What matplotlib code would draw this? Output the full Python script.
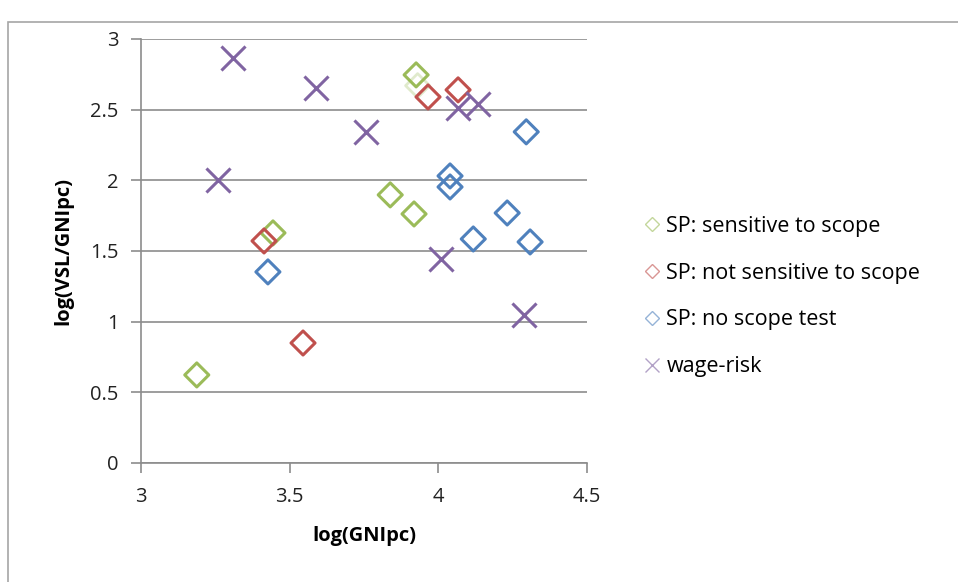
import matplotlib
matplotlib.use("Agg")
import matplotlib.pyplot as plt
from matplotlib.lines import Line2D
from matplotlib.patches import Rectangle

plt.rcParams['font.family'] = ['Open Sans', 'DejaVu Sans']

# data
sens_x = [3.925, 3.188, 3.838, 3.918, 3.444]
sens_y = [2.746, 0.623, 1.897, 1.762, 1.628]
ghost_x = [3.93]   # faint duplicate point under the top green diamond
ghost_y = [2.67]
notsens_x = [3.965, 4.066, 3.414, 3.545]
notsens_y = [2.59, 2.64, 1.571, 0.849]
noscope_x = [4.295, 4.039, 4.039, 4.231, 4.117, 4.308, 3.427]
noscope_y = [2.343, 2.031, 1.953, 1.769, 1.585, 1.564, 1.352]
wage_x = [3.31, 3.589, 3.757, 3.259, 4.066, 4.134, 4.009, 4.288]
wage_y = [2.866, 2.654, 2.343, 2.003, 2.512, 2.54, 1.444, 1.047]

labels = ["SP: sensitive to scope", "SP: not sensitive to scope",
          "SP: no scope test", "wage-risk"]
colors = ["#9BBB59", "#C0504D", "#4F81BD", "#8064A2"]

fig = plt.figure(figsize=(9.58, 5.82), dpi=100)
ax = fig.add_axes([0.147, 0.2045, 0.466, 0.7285])

# outer frame of the chart box
fig.patches.append(Rectangle((8/958, -0.1), 1.2, 1 - 22/582 + 0.1,
                             transform=fig.transFigure, fill=False,
                             edgecolor="#a6a6a6", lw=1.2))

ax.scatter(ghost_x, ghost_y, marker='D', s=150, facecolors='none',
           edgecolors=colors[0], linewidths=2.0, alpha=0.3, zorder=3)
ax.scatter(sens_x, sens_y, marker='D', s=150, facecolors='none',
           edgecolors=colors[0], linewidths=2.2, zorder=3)
ax.scatter(notsens_x, notsens_y, marker='D', s=150, facecolors='none',
           edgecolors=colors[1], linewidths=2.2, zorder=3)
ax.scatter(noscope_x, noscope_y, marker='D', s=150, facecolors='none',
           edgecolors=colors[2], linewidths=2.2, zorder=3)
ax.scatter(wage_x, wage_y, marker='x', s=300, c=colors[3],
           linewidths=2.2, zorder=3)

ax.set_xlim(3, 4.5)
ax.set_ylim(0, 3)
ax.set_xticks([3, 3.5, 4, 4.5])
ax.set_xticklabels(["3", "3.5", "4", "4.5"])
ax.set_yticks([0, 0.5, 1, 1.5, 2, 2.5, 3])
ax.set_yticklabels(["0", "0.5", "1", "1.5", "2", "2.5", "3"])
ax.yaxis.grid(True, color="#8c8c8c", lw=1.2)
ax.set_axisbelow(True)
for s in ["top", "right"]:
    ax.spines[s].set_visible(False)
for s in ["left", "bottom"]:
    ax.spines[s].set_color("#8c8c8c")
    ax.spines[s].set_linewidth(1.2)
ax.tick_params(axis='both', colors="#8c8c8c", length=7, width=1.2,
               labelsize=14.5, labelcolor="#222222")
ax.tick_params(axis='x', pad=10)
ax.tick_params(axis='y', pad=9)

ax.set_xlabel("log(GNIpc)", fontsize=14.5, fontweight='bold', labelpad=14)
ax.set_ylabel("log(VSL/GNIpc)", fontsize=14.5, fontweight='bold', labelpad=12)

handles = [Line2D([], [], ls='none', marker='D', ms=7, mfc='none',
                  mec=colors[i], mew=1.0, alpha=0.6) for i in range(3)]
handles.append(Line2D([], [], ls='none', marker='x', ms=10, mec=colors[3],
                      mew=1.0, alpha=0.6))
fig.legend(handles, labels, loc='center left', bbox_to_anchor=(0.663, 0.4905),
           frameon=False, fontsize=15.5, handlelength=0.6, handletextpad=0.35,
           labelspacing=1.2, borderpad=0)

fig.savefig("out.png", dpi=100)
